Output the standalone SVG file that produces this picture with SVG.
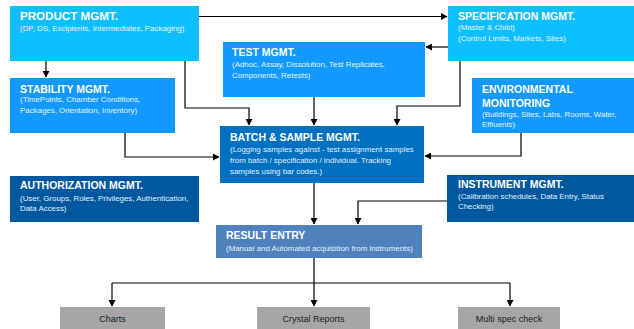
<svg xmlns="http://www.w3.org/2000/svg" width="634" height="329" viewBox="0 0 634 329">
<defs>
<marker id="ah" markerWidth="7" markerHeight="7" refX="6" refY="3.5" orient="auto" markerUnits="userSpaceOnUse">
<path d="M0,0 L6.5,3.5 L0,7 z" fill="#000"/>
</marker>
<style>
.t{font-family:"Liberation Sans",Arial,sans-serif;font-weight:bold;font-size:10.5px;fill:#fff}
.tl{font-size:11.6px}
.s{font-family:"Liberation Sans",Arial,sans-serif;font-size:7.9px;fill:#e4f1ff}
.o{font-family:"Liberation Sans",Arial,sans-serif;font-size:9px;fill:#1a1a1a;text-anchor:middle}
.c{fill:none;stroke:#000;stroke-width:1.2}
.a{marker-end:url(#ah)}
</style>
</defs>
<rect width="634" height="329" fill="#fff"/>
<g id="connectors">
<path class="c a" d="M199,16.5 H447"/>
<path class="c a" d="M448,47 H426"/>
<path class="c a" d="M46,61 V77"/>
<path class="c a" d="M185,61 V108 H249 V125"/>
<path class="c a" d="M314,97 V125"/>
<path class="c a" d="M460,61 V106 H397 V125"/>
<path class="c a" d="M125,133 V157 H219"/>
<path class="c a" d="M521,133 V156 H425"/>
<path class="c a" d="M314,183 V224"/>
<path class="c a" d="M447,201 H358 V224"/>
<path class="c" d="M314,258 V283 M112,283 H510"/>
<path class="c a" d="M112,283 V306"/>
<path class="c a" d="M314,283 V306"/>
<path class="c a" d="M510,283 V306"/>
</g>
<g id="product">
<rect x="10" y="6" width="189" height="55" fill="#0dbfff"/>
<text class="t tl" x="20" y="20">PRODUCT MGMT.</text>
<text class="s" x="20" y="31">(DP, DS, Excipients, Intermediates, Packaging)</text>
</g>
<g id="specification">
<rect x="448" y="6" width="186" height="55" fill="#0dbfff"/>
<text class="t" x="458" y="20">SPECIFICATION MGMT.</text>
<text class="s" x="458" y="30">(Master &amp; Child)</text>
<text class="s" x="458" y="41">(Control Limits, Markets, Sites)</text>
</g>
<g id="test">
<rect x="223" y="42" width="202" height="55" fill="#1199ff"/>
<text class="t" x="232" y="56">TEST MGMT.</text>
<text class="s" x="232" y="67">(Adhoc, Assay, Dissolution, Test Replicates,</text>
<text class="s" x="232" y="78">Components, Retests)</text>
</g>
<g id="stability">
<rect x="10" y="78" width="165" height="55" fill="#1199ff"/>
<text class="t" x="20" y="93">STABILITY MGMT.</text>
<text class="s" x="20" y="102">(TimePoints, Chamber Conditions,</text>
<text class="s" x="20" y="113">Packages, Orientation, Inventory)</text>
</g>
<g id="environmental">
<rect x="472" y="78" width="162" height="55" fill="#1199ff"/>
<text class="t" x="482" y="93">ENVIRONMENTAL</text>
<text class="t" x="482" y="107">MONITORING</text>
<text class="s" x="482" y="117">(Buildings, Sites, Labs, Rooms, Water,</text>
<text class="s" x="482" y="127">Effluents)</text>
</g>
<g id="batch">
<rect x="220" y="126" width="204" height="57" fill="#0070c0"/>
<text class="t" x="230" y="141">BATCH &amp; SAMPLE MGMT.</text>
<text class="s" x="230" y="152">(Logging samples against - test assignment samples</text>
<text class="s" x="230" y="163">from batch / specification / individual. Tracking</text>
<text class="s" x="230" y="173.5">samples using bar codes.)</text>
</g>
<g id="authorization">
<rect x="10" y="176" width="189" height="46" fill="#0059a0"/>
<text class="t" x="20" y="189">AUTHORIZATION MGMT.</text>
<text class="s" x="20" y="201">(User, Groups, Roles, Privileges, Authentication,</text>
<text class="s" x="20" y="211">Data Access)</text>
</g>
<g id="instrument">
<rect x="447" y="175" width="187" height="47" fill="#0059a0"/>
<text class="t" x="458" y="188">INSTRUMENT MGMT.</text>
<text class="s" x="458" y="199">(Calibration schedules, Data Entry, Status</text>
<text class="s" x="458" y="209">Checking)</text>
</g>
<g id="result">
<rect x="216" y="225" width="206" height="33" fill="#4f81bd"/>
<text class="t" x="226" y="239">RESULT ENTRY</text>
<text class="s" x="226" y="251">(Manual and Automated acquisition from instruments)</text>
</g>
<g id="charts">
<rect x="60" y="307" width="105" height="22" fill="#a6a6a6"/>
<text class="o" x="112.5" y="322">Charts</text>
</g>
<g id="crystal">
<rect x="257" y="307" width="113" height="22" fill="#a6a6a6"/>
<text class="o" x="313.5" y="322">Crystal Reports</text>
</g>
<g id="multispec">
<rect x="458" y="307" width="102" height="22" fill="#a6a6a6"/>
<text class="o" x="509" y="322">Multi spec check</text>
</g>
</svg>
